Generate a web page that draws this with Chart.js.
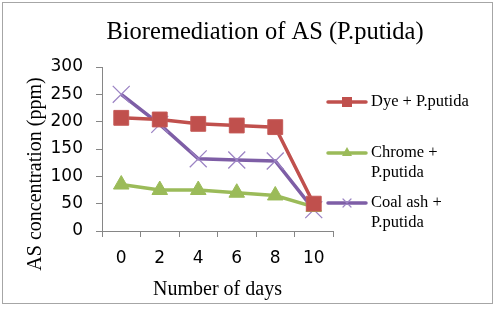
<!DOCTYPE html>
<html><head><meta charset="utf-8">
<script src="https://cdn.jsdelivr.net/npm/chart.js@4"></script>
<style>html,body{margin:0;padding:0;background:#fff}#wrap{width:500px;height:312px;position:relative}</style>
</head><body><div id="wrap"><canvas id="c" width="500" height="312"></canvas></div>
<script>
const chartTitle = 'Bioremediation of AS (P.putida)';
const yTitle = 'AS concentration (ppm)';
const xTitle = 'Number of days';
const days = ['0','2','4','6','8','10'];
const yTicks = [0,50,100,150,200,250,300];
const dye = [207, 204, 196, 193, 190, 50];
const chrome = [85, 75, 75, 70, 65, 44];
const coalAsh = [250, 195, 132, 130, 128, 39];
const seriesNames = [['Dye + P.putida'], ['Chrome +','P.putida'], ['Coal ash +','P.putida']];

const RED='#C0504D', GREEN='#9BBB59', PURPLE='#7E5EA6', PURPLE_L='#9C84C4';
const serif = '"Liberation Serif", "Times New Roman", serif';
const sans = '"DejaVu Sans", Verdana, sans-serif';

const decor = {
  id:'decor',
  afterDraw(chart){
    const ctx = chart.ctx;
    ctx.save();
    ctx.strokeStyle='#a6a6a6'; ctx.lineWidth=1;
    ctx.strokeRect(2.5,2.5,490,301);
    ctx.fillStyle='#000';
    ctx.font='24.5px '+serif; ctx.textAlign='center'; ctx.textBaseline='middle';
    ctx.fillText(chartTitle, 265, 33);
    // y axis title
    ctx.save();
    ctx.translate(36, 174); ctx.rotate(-Math.PI/2);
    ctx.font='20px '+serif;
    ctx.fillText(yTitle, 0, 0);
    ctx.restore();
    // legend
    const ys=[102,153,203];
    const cols=[RED,GREEN,PURPLE];
    ctx.font='16.5px '+serif; ctx.textAlign='left';
    seriesNames.forEach((lines,i)=>{
      const y=ys[i];
      ctx.strokeStyle=cols[i]; ctx.lineWidth=3.5; ctx.lineCap='round';
      ctx.beginPath(); ctx.moveTo(328,y); ctx.lineTo(366,y); ctx.stroke();
      ctx.fillStyle=cols[i];
      if(i===0){ ctx.fillRect(342,y-5,10,10); }
      else if(i===1){ ctx.beginPath(); ctx.moveTo(347,y-6); ctx.lineTo(352,y+3); ctx.lineTo(342,y+3); ctx.closePath(); ctx.fill(); }
      else { ctx.strokeStyle=PURPLE_L; ctx.lineWidth=1.2; ctx.beginPath(); ctx.moveTo(343,y-4); ctx.lineTo(351,y+4); ctx.moveTo(351,y-4); ctx.lineTo(343,y+4); ctx.stroke(); }
      ctx.fillStyle='#000';
      lines.forEach((t,k)=>ctx.fillText(t,371,y+k*20));
    });
    ctx.restore();
  }
};

new Chart(document.getElementById('c'), {
  type:'line',
  data:{
    labels:days,
    datasets:[
      {label:seriesNames[0].join(' '), data:dye, borderColor:RED, backgroundColor:RED, borderWidth:3.5,
       pointStyle:'rect', pointRadius:10.5, pointBorderColor:'#C55A57', pointBorderWidth:1, pointBackgroundColor:RED},
      {label:seriesNames[1].join(' '), data:chrome, borderColor:GREEN, backgroundColor:GREEN, borderWidth:3.5,
       pointStyle:'triangle', pointRadius:9, pointBorderColor:GREEN, pointBorderWidth:1, pointBackgroundColor:GREEN},
      {label:seriesNames[2].join(' '), data:coalAsh, borderColor:PURPLE, backgroundColor:PURPLE, borderWidth:3.5,
       pointStyle:'crossRot', pointRadius:12, pointBorderColor:PURPLE_L, pointBorderWidth:1.3}
    ]
  },
  options:{
    responsive:false, animation:false,
    layout:{padding:{left:20,right:167,top:67,bottom:8}},
    plugins:{legend:{display:false}, title:{display:false}, tooltip:{enabled:false}},
    elements:{line:{tension:0}},
    scales:{
      x:{type:'category', offset:true,
        grid:{drawOnChartArea:false, drawTicks:true, tickLength:6, color:'#868686', offset:true},
        border:{color:'#868686', width:1},
        ticks:{font:{family:sans,size:17}, color:'#000', padding:11, maxRotation:0},
        title:{display:true, text:xTitle, font:{family:serif,size:20}, color:'#000', padding:{top:0,bottom:2}},
        afterFit(s){ s.height=73; }
      },
      y:{min:0,max:300,
        afterBuildTicks(s){ s.ticks = yTicks.map(v=>({value:v})); },
        grid:{drawOnChartArea:false, drawTicks:true, tickLength:6, color:'#868686'},
        border:{color:'#868686', width:1},
        ticks:{font:{family:sans,size:17}, color:'#000', padding:13},
        title:{display:false},
        afterFit(s){ s.width=82; }
      }
    }
  },
  plugins:[decor]
});
</script></body></html>
